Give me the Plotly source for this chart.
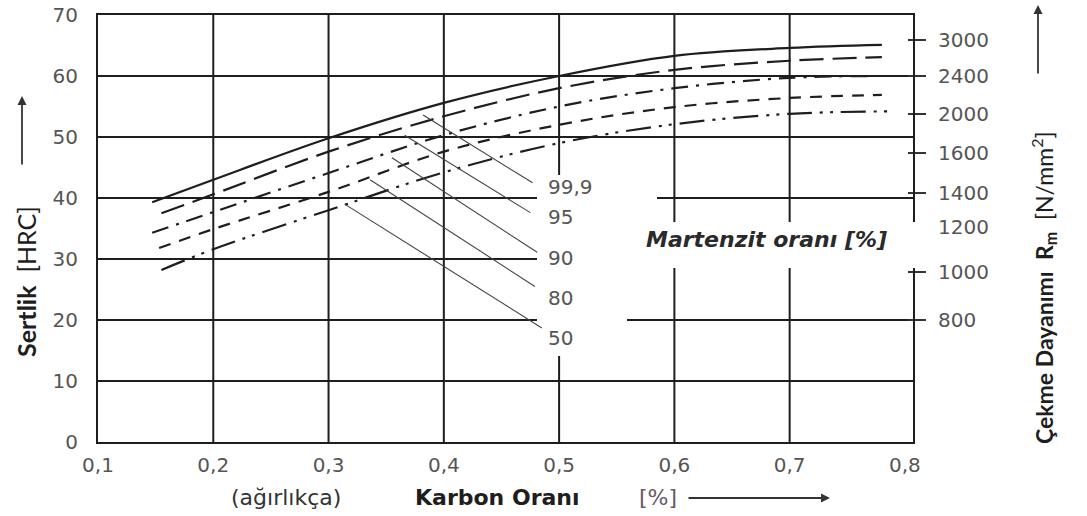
import plotly.graph_objects as go

# ---------------- data ----------------
x_999 = [0.147, 0.2, 0.3, 0.4, 0.5, 0.6, 0.7, 0.78]
y_999 = [39.3, 43.0, 49.8, 55.6, 60.0, 63.3, 64.6, 65.1]

x_95 = [0.155, 0.2, 0.3, 0.4, 0.5, 0.6, 0.7, 0.78]
y_95 = [37.5, 40.6, 47.6, 53.4, 58.0, 61.0, 62.5, 63.1]

x_90 = [0.147, 0.2, 0.3, 0.4, 0.5, 0.6, 0.7, 0.78]
y_90 = [34.3, 37.7, 44.1, 50.3, 55.0, 58.0, 59.7, 60.0]

x_80 = [0.153, 0.2, 0.3, 0.4, 0.5, 0.6, 0.7, 0.78]
y_80 = [31.8, 34.9, 41.0, 47.6, 52.0, 54.9, 56.4, 56.9]

x_50 = [0.155, 0.2, 0.3, 0.4, 0.5, 0.6, 0.7, 0.785]
y_50 = [28.2, 31.6, 38.0, 44.2, 49.0, 52.1, 53.8, 54.2]

martensite_labels = ["99,9", "95", "90", "80", "50"]
leader_x0 = [0.382, 0.366, 0.355, 0.336, 0.314]
leader_y0 = [53.6, 50.3, 46.6, 43.0, 39.0]
leader_x1 = [0.477, 0.475, 0.481, 0.479, 0.485]
leader_y1 = [42.5, 37.6, 31.1, 25.5, 18.7]
label_x = 0.489
label_y = [41.8, 36.9, 30.2, 23.6, 17.0]

x_ticks = [0.1, 0.2, 0.3, 0.4, 0.5, 0.6, 0.7, 0.8]
x_tick_text = ["0,1", "0,2", "0,3", "0,4", "0,5", "0,6", "0,7", "0,8"]
x_grid = [0.2, 0.3, 0.4, 0.5, 0.6, 0.7]
y_ticks = [0, 10, 20, 30, 40, 50, 60, 70]
y_grid = [10, 20, 30, 40, 50, 60]
rm_ticks = ["3000", "2400", "2000", "1600", "1400", "1200", "1000", "800"]
rm_pos_hrc = [65.9, 60.0, 53.8, 47.4, 40.8, 35.2, 27.9, 20.0]

# ---------------- layout geometry ----------------
W, H = 1087, 516
L, R, T, B = 98, 913, 15, 442


def px_x(px):
    return (px - L) / (R - L)


def px_y(py):
    return (B - py) / (B - T)


INK = "#1e1e1e"
GREY = "#555555"
fig = go.Figure()

styles = [
    (x_999, y_999, "solid"),
    (x_95, y_95, "24px,9px"),
    (x_90, y_90, "17px,8px,3px,8px"),
    (x_80, y_80, "12px,9px"),
    (x_50, y_50, "25px,8px,3px,7px,3px,8px"),
]
for xs, ys, dash in styles:
    fig.add_trace(go.Scatter(
        x=xs, y=ys, mode="lines",
        line=dict(color=INK, width=2.2, dash=dash, shape="spline", smoothing=1.0),
        hoverinfo="skip", showlegend=False))

# leader lines
lx, ly = [], []
for a, b, c, d in zip(leader_x0, leader_y0, leader_x1, leader_y1):
    lx += [a, c, None]
    ly += [b, d, None]
fig.add_trace(go.Scatter(x=lx, y=ly, mode="lines",
                         line=dict(color="#444444", width=1.1),
                         hoverinfo="skip", showlegend=False))

# invisible traces for the right axes
for ax in ("y2", "y3"):
    fig.add_trace(go.Scatter(x=[0.1], y=[0], yaxis=ax, mode="markers",
                             marker=dict(opacity=0), hoverinfo="skip", showlegend=False))

for lab, yy in zip(martensite_labels, label_y):
    fig.add_annotation(x=label_x, y=yy, xref="x", yref="y", text=lab,
                       showarrow=False, xanchor="left", yanchor="middle",
                       font=dict(family="DejaVu Sans", size=20, color=GREY))

# grid lines, then white gaps in the grid behind labels
shapes = []
for xv in x_grid:
    shapes.append(dict(type="line", xref="x", yref="paper", x0=xv, x1=xv, y0=0, y1=1,
                       line=dict(color=INK, width=2), layer="between"))
for yv in y_grid:
    shapes.append(dict(type="line", xref="paper", yref="y", x0=0, x1=1, y0=yv, y1=yv,
                       line=dict(color=INK, width=2), layer="between"))
shapes += [
    dict(type="rect", xref="paper", yref="paper", x0=px_x(537), x1=px_x(657),
         y0=px_y(215), y1=px_y(175), fillcolor="white", line_width=0, layer="between"),
    dict(type="rect", xref="paper", yref="paper", x0=px_x(537), x1=px_x(627),
         y0=px_y(356), y1=px_y(175), fillcolor="white", line_width=0, layer="between"),
    dict(type="rect", xref="paper", yref="paper", x0=px_x(607), x1=px_x(926),
         y0=px_y(268), y1=px_y(222), fillcolor="white", line_width=0, layer="above"),
]

ann = dict(xref="paper", yref="paper", showarrow=False, xanchor="center", yanchor="middle")
fig.add_annotation(x=px_x(766), y=px_y(240), text="<b><i>Martenzit oranı [%]</i></b>",
                   font=dict(family="DejaVu Sans", size=22, color="#2a2a2a"), **ann)

# axis titles
fig.add_annotation(x=px_x(26), y=px_y(282), text="<b>Sertlik</b>  [HRC]", textangle=-90,
                   font=dict(family="Lato", size=25, color=INK), **ann)
fig.add_annotation(x=px_x(1043), y=px_y(288),
                   text="<b>Çekme Dayanımı  R<sub>m</sub></b>  [N/mm<sup>2</sup>]",
                   textangle=-90, font=dict(family="Lato", size=23, color=INK), **ann)
fig.add_annotation(x=px_x(286), y=px_y(498), text="(ağırlıkça)",
                   font=dict(family="DejaVu Sans", size=22, color="#333333"), **ann)
fig.add_annotation(x=px_x(497), y=px_y(498), text="<b>Karbon Oranı</b>",
                   font=dict(family="DejaVu Sans", size=22, color=INK), **ann)
fig.add_annotation(x=px_x(658), y=px_y(498), text="[%]",
                   font=dict(family="DejaVu Sans", size=22, color="#6a5866"), **ann)

# arrows
arrow = dict(text="", showarrow=True, arrowhead=2, arrowsize=1, arrowwidth=1.8,
             arrowcolor="#333333", xref="paper", yref="paper", axref="pixel",
             ayref="pixel", standoff=0, startstandoff=0)
fig.add_annotation(x=px_x(22), y=px_y(96), ax=0, ay=70, **arrow)
fig.add_annotation(x=px_x(1038), y=px_y(5), ax=0, ay=70, **arrow)
fig.add_annotation(x=px_x(830), y=px_y(498), ax=-143, ay=0, **arrow)

tickfont = dict(family="DejaVu Sans", size=20, color=GREY)
fig.update_layout(
    width=W, height=H,
    margin=dict(l=L, r=W - R, t=T, b=H - B, pad=0, autoexpand=False),
    paper_bgcolor="white", plot_bgcolor="white",
    shapes=shapes,
    xaxis=dict(range=[0.1, 0.807], tickvals=x_ticks, ticktext=x_tick_text,
               showgrid=False, automargin=False,
               showline=True, linecolor=INK, linewidth=2, mirror=True,
               ticks="", ticklabelstandoff=4, zeroline=False, tickfont=tickfont),
    yaxis=dict(range=[0, 70], tickvals=y_ticks, automargin=False, showgrid=False,
               showline=True, linecolor=INK, linewidth=2, mirror=True,
               ticks="", ticklabelstandoff=14, zeroline=False, tickfont=tickfont),
    yaxis2=dict(range=[0, 70], overlaying="y", side="right", automargin=False,
                tickvals=rm_pos_hrc, ticktext=rm_ticks,
                showgrid=False, showline=True, linecolor=INK, linewidth=2,
                ticks="outside", ticklen=11, tickwidth=1.6, tickcolor="#333333",
                ticklabelstandoff=8, zeroline=False, tickfont=tickfont),
    yaxis3=dict(range=[0, 70], overlaying="y", side="right", automargin=False,
                tickvals=rm_pos_hrc, showticklabels=False,
                showgrid=False, showline=False,
                ticks="inside", ticklen=5, tickwidth=1.6, tickcolor="#333333",
                zeroline=False),
)

fig.write_html("out.html")
